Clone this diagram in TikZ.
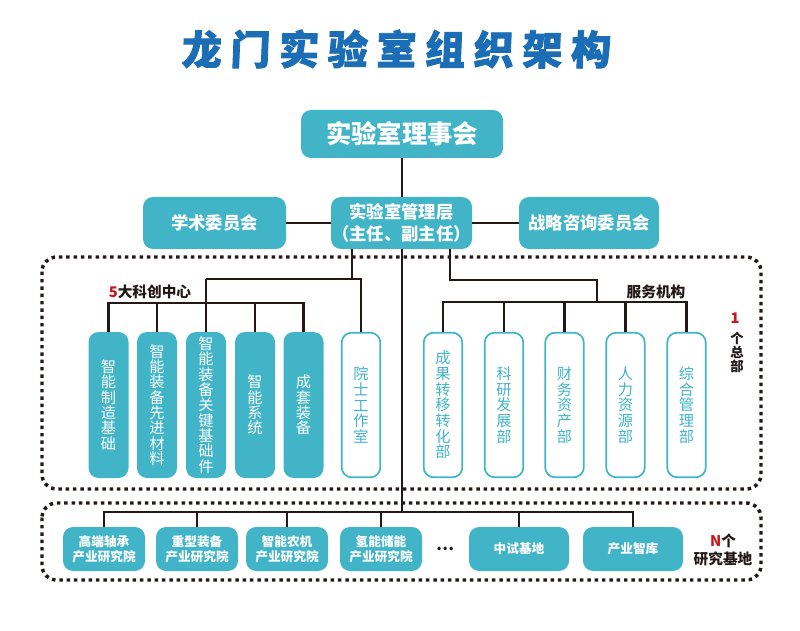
\documentclass[tikz,border=0pt]{standalone}
\usepackage{fontspec}
\setmainfont{Noto Sans CJK SC}
\newfontfamily\titlefont{Noto Sans CJK SC}[FakeSlant=0.04,FakeBold=2]
\definecolor{teal}{HTML}{41B5C7}
\definecolor{titleblue}{HTML}{1B6DB5}
\definecolor{linec}{HTML}{231815}
\definecolor{redc}{HTML}{C8161D}
\begin{document}
\begin{tikzpicture}[x=0.75pt,y=-0.75pt,
  fillbox/.style={draw=none,fill=teal,rounded corners=7.5pt,text=white,inner sep=0pt,align=center},
  topbox/.style={fillbox,font=\bfseries\fontsize{13}{16.5}\selectfont,minimum height=39pt},
  vfill/.style={fillbox,minimum width=30pt,minimum height=109.5pt,font=\fontsize{11.4}{11.5}\selectfont},
  vline/.style={draw=teal,line width=1.3pt,fill=white,text=teal,rounded corners=7.5pt,inner sep=0pt,align=center,
    minimum width=29pt,minimum height=108.5pt,font=\fontsize{11.4}{11.8}\selectfont},
  bbox/.style={fillbox,minimum height=33pt,font=\bfseries\fontsize{9.5}{11.5}\selectfont},
  conn/.style={line width=2.2pt,draw=linec},
  dotbox/.style={draw=linec,line width=2.6pt,dash pattern=on 2.6pt off 2.9pt,rounded corners=11pt},
  lbl/.style={font=\bfseries\fontsize{11}{13}\selectfont,text=linec,inner sep=0pt,align=center}]
\useasboundingbox (0,0) rectangle (800,631);
% title
\node[text=titleblue,font=\titlefont\bfseries\fontsize{30}{30}\selectfont,inner sep=0pt] (title) at (396,49)
  {龙\hspace{6.5pt}门\hspace{6.5pt}实\hspace{6.5pt}验\hspace{6.5pt}室\hspace{6.5pt}组\hspace{6.5pt}织\hspace{6.5pt}架\hspace{6.5pt}构};
% dotted frames
\draw[dotbox] (42,257) rectangle (761,489);
\draw[dotbox] (42,503) rectangle (761,580);
% top boxes
\node[fillbox,minimum width=151.5pt,minimum height=36pt,font=\bfseries\fontsize{19}{19}\selectfont] (council) at (402,134) {实验室理事会};
\node[topbox,minimum width=107.25pt] (xs) at (214.5,223) {学术委员会};
\node[topbox,minimum width=105.75pt] (mgmt) at (401.5,223) {实验室管理层\\（主任、副主任）};
\node[topbox,minimum width=105pt] (zl) at (589,223) {战略咨询委员会};
% left group boxes
\node[vfill] (c1) at (108.5,405) {智\\能\\制\\造\\基\\础};
\node[vfill] (c2) at (157,405) {智\\能\\装\\备\\先\\进\\材\\料};
\node[vfill] (c3) at (206,405) {智\\能\\装\\备\\关\\键\\基\\础\\件};
\node[vfill] (c4) at (255,405) {智\\能\\系\\统};
\node[vfill] (c5) at (303.5,405) {成\\套\\装\\备};
\node[vline] (ys) at (361,405) {院\\士\\工\\作\\室};
% right group boxes
\node[vline] (r1) at (443,405) {成\\果\\转\\移\\转\\化\\部};
\node[vline] (r2) at (504,405) {科\\研\\发\\展\\部};
\node[vline] (r3) at (564.5,405) {财\\务\\资\\产\\部};
\node[vline] (r4) at (625.5,405) {人\\力\\资\\源\\部};
\node[vline] (r5) at (686.5,405) {综\\合\\管\\理\\部};
% bottom boxes
\node[bbox,minimum width=61.5pt] (b1) at (104,549) {高端轴承\\产业研究院};
\node[bbox,minimum width=61.5pt] (b2) at (197,549) {重型装备\\产业研究院};
\node[bbox,minimum width=61.5pt] (b3) at (287,549) {智能农机\\产业研究院};
\node[bbox,minimum width=61.5pt] (b4) at (381,549) {氢能储能\\产业研究院};
\node[bbox,minimum width=75pt] (b5) at (519,549) {中试基地};
\node[bbox,minimum width=75pt] (b6) at (633,549) {产业智库};
\node[lbl,font=\bfseries\fontsize{12}{12}\selectfont] (dots) at (445,549) {…};
% labels
\node[lbl] (l5) at (150,292) {\textcolor{redc}{5}大科创中心};
\node[lbl] (lfw) at (656,292) {服务机构};
\node[lbl,text=redc,font=\bfseries\fontsize{11}{11}\selectfont] (l1) at (735,318) {1};
\node[lbl,font=\bfseries\fontsize{10}{10.5}\selectfont] (lzb) at (737,352) {个\\总\\部};
\node[lbl] (lN) at (723,550) {\textcolor{redc}{N}个\\研究基地};
% connectors
\coordinate (jL) at (352,279);
\coordinate (jLa) at (206,279);
\coordinate (jLb) at (361,279);
\coordinate (jR) at (450,280);
\coordinate (jRa) at (597,280);
\coordinate (jRb) at (597,302);
\coordinate (jM) at (402,512);
\draw[conn] (council.south) -- (mgmt.north -| council.south);
\draw[conn] (xs.east) -- (mgmt.west);
\draw[conn] (mgmt.east) -- (zl.west);
% left branch
\draw[conn] (mgmt.south -| jL) -- (jL);
\draw[conn] (jLa) -- (jLb) -- (ys.north);
\draw[conn] (jLa) -- (c3.north);
\draw[conn] (c1.north) |- (206,303) -| (c5.north);
\draw[conn] (c2.north) -- (c2.north |- 0,303);
\draw[conn] (c4.north) -- (c4.north |- 0,303);
% right branch
\draw[conn] (mgmt.south -| jR) -- (jR) -- (jRa) -- (jRb);
\draw[conn] (r1.north) |- (jRb) -| (r5.north);
\draw[conn] (r2.north) -- (r2.north |- jRb);
\draw[conn] (r3.north) -- (r3.north |- jRb);
\draw[conn] (r4.north) -- (r4.north |- jRb);
% main trunk
\draw[conn] (mgmt.south -| jM) -- (jM);
\draw[conn] (b1.north) |- (jM) -| (b6.north);
\draw[conn] (b2.north) -- (b2.north |- jM);
\draw[conn] (b3.north) -- (b3.north |- jM);
\draw[conn] (b4.north) -- (b4.north |- jM);
\draw[conn] (b5.north) -- (b5.north |- jM);
\end{tikzpicture}
\end{document}
